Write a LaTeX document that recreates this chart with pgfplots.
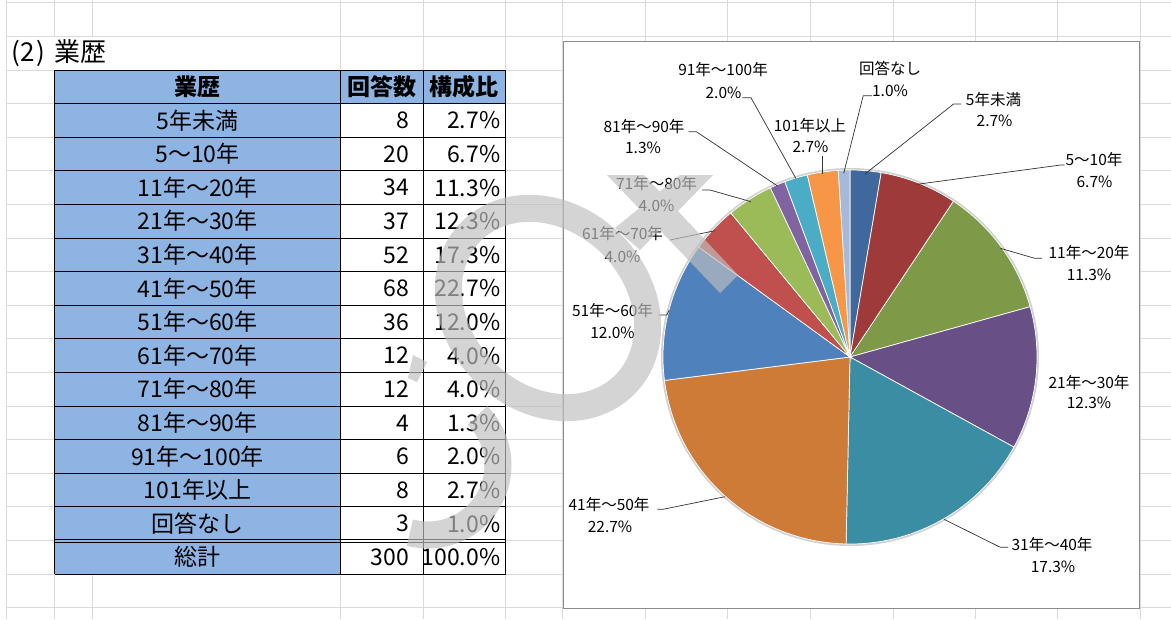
\documentclass[border=0pt]{standalone}
\usepackage{fontspec}
\setmainfont{Noto Sans CJK JP}
\usepackage{pgfplots}
\pgfplotsset{compat=1.18}
\usepgfplotslibrary{polar}
\definecolor{s1}{HTML}{3F689C}
\definecolor{s2}{HTML}{9E3B3A}
\definecolor{s3}{HTML}{7E9948}
\definecolor{s4}{HTML}{685086}
\definecolor{s5}{HTML}{3B8DA4}
\definecolor{s6}{HTML}{CF7B38}
\definecolor{s7}{HTML}{4F81BD}
\definecolor{s8}{HTML}{C0504D}
\definecolor{s9}{HTML}{9BBB59}
\definecolor{s10}{HTML}{8064A2}
\definecolor{s11}{HTML}{4BACC6}
\definecolor{s12}{HTML}{F79646}
\definecolor{s13}{HTML}{A7B9DA}
\definecolor{hdr}{HTML}{8DB4E2}
\definecolor{gridc}{HTML}{DADADA}
\definecolor{boxc}{HTML}{8C8C8C}
\definecolor{wm}{HTML}{BFBFBF}
\newcommand\tf{\fontsize{23}{23}\selectfont}
\newcommand\lf{\fontsize{15.5}{16}\selectfont}
\begin{document}
\begin{tikzpicture}
\begin{scope}[x=1pt,y=-1pt]
\path[use as bounding box, fill=white] (0,0) rectangle (1171,619);
% spreadsheet grid
\foreach \gx in {6,54.5,92,340.5,423,505.5,562,645,727,810,893,975,1057,1140}
  \draw[gridc, line width=0.8pt] (\gx,0) -- (\gx,619);
\foreach \k in {0,...,18}
  \draw[gridc, line width=0.8pt] (6,{2.8+33.6*\k}) -- (1171,{2.8+33.6*\k});
% title
\fill[white] (6.5,37.2) rectangle (340,69.6);
\node[anchor=west, font=\fontsize{26}{26}\selectfont, inner sep=0pt] at (11,53) {(\kern1pt2\kern1pt)\kern9pt業歴};
% table
\fill[hdr] (54.5,70) rectangle (505.5,103.6);
\fill[hdr] (54.5,103.6) rectangle (340.5,574);
\fill[white] (340.5,103.6) rectangle (505.5,574);
\foreach \k in {0,...,13,15}
  \draw[black, line width=0.9pt] (54.5,{70+33.6*\k}) -- (505.5,{70+33.6*\k});
\draw[black, line width=0.8pt] (54.5,539.4) -- (505.5,539.4);
\draw[black, line width=0.8pt] (54.5,542.6) -- (505.5,542.6);
\foreach \gx in {54.5,340.5,423,505.5}
  \draw[black, line width=0.9pt] (\gx,70) -- (\gx,574);
\node[font=\tf\bfseries] at (197.5,86.8) {業歴};
\node[font=\tf\bfseries] at (381.75,86.8) {回答数};
\node[font=\tf\bfseries] at (464.25,86.8) {構成比};
\foreach \lab/\n/\p [count=\i] in {5年未満/8/2.7\%, 5～10年/20/6.7\%, 11年～20年/34/11.3\%, 21年～30年/37/12.3\%, 31年～40年/52/17.3\%, 41年～50年/68/22.7\%, 51年～60年/36/12.0\%, 61年～70年/12/4.0\%, 71年～80年/12/4.0\%, 81年～90年/4/1.3\%, 91年～100年/6/2.0\%, 101年以上/8/2.7\%, 回答なし/3/1.0\%, 総計/300/100.0\%}
{
  \node[font=\tf] at (197.5,{70+33.6*\i+16.8}) {\lab};
  \node[font=\tf, anchor=east, inner sep=0pt] at (409,{70+33.6*\i+16.8}) {\n};
  \node[font=\tf, anchor=east, inner sep=0pt] at (500.5,{70+33.6*\i+16.8}) {\p};
}
% chart area
\filldraw[fill=white, draw=boxc, line width=0.8pt] (563,41) rectangle (1139,608);
\end{scope}

\begin{polaraxis}[at={(850pt,-357pt)}, anchor=center, scale only axis,
  width=374pt, height=374pt, hide axis, ymin=0, ymax=1, clip=false]
\fill[black!18] (axis cs:0,0) circle[radius=189pt];
\addplot[draw=white, line width=0.7pt, fill=s1,  domain=80.4:90,      samples=12] {1} -- (axis cs:0,0) -- cycle;
\addplot[draw=white, line width=0.7pt, fill=s2,  domain=56.4:80.4,    samples=20] {1} -- (axis cs:0,0) -- cycle;
\addplot[draw=white, line width=0.7pt, fill=s3,  domain=15.6:56.4,    samples=30] {1} -- (axis cs:0,0) -- cycle;
\addplot[draw=white, line width=0.7pt, fill=s4,  domain=-28.8:15.6,   samples=30] {1} -- (axis cs:0,0) -- cycle;
\addplot[draw=white, line width=0.7pt, fill=s5,  domain=-91.2:-28.8,  samples=40] {1} -- (axis cs:0,0) -- cycle;
\addplot[draw=white, line width=0.7pt, fill=s6,  domain=-172.8:-91.2, samples=50] {1} -- (axis cs:0,0) -- cycle;
\addplot[draw=white, line width=0.7pt, fill=s7,  domain=-216:-172.8,  samples=30] {1} -- (axis cs:0,0) -- cycle;
\addplot[draw=white, line width=0.7pt, fill=s8,  domain=-230.4:-216,  samples=12] {1} -- (axis cs:0,0) -- cycle;
\addplot[draw=white, line width=0.7pt, fill=s9,  domain=-244.8:-230.4,samples=12] {1} -- (axis cs:0,0) -- cycle;
\addplot[draw=white, line width=0.7pt, fill=s10, domain=-249.6:-244.8,samples=6]  {1} -- (axis cs:0,0) -- cycle;
\addplot[draw=white, line width=0.7pt, fill=s11, domain=-256.8:-249.6,samples=8]  {1} -- (axis cs:0,0) -- cycle;
\addplot[draw=white, line width=0.7pt, fill=s12, domain=-266.4:-256.8,samples=10] {1} -- (axis cs:0,0) -- cycle;
\addplot[draw=white, line width=0.7pt, fill=s13, domain=-270:-266.4,  samples=5]  {1} -- (axis cs:0,0) -- cycle;
\end{polaraxis}

\begin{scope}[x=1pt,y=-1pt]
% leader lines
\begin{scope}[black!80, line width=0.7pt]
\draw (843.7,173.3) -- (863.2,95.7) -- (871.8,95.7);
\draw (865,174) -- (953.6,104) -- (961.4,104);
\draw (917,184.3) -- (1060.8,165) -- (1064.7,165);
\draw (1000.4,248.3) -- (1034.7,258.3) -- (1042,258.3);
\draw (943.9,519.3) -- (1000.4,547.3) -- (1008,547.3);
\draw (725,496.7) -- (663,509.3) -- (657.3,509.3);
\draw (669.3,310) -- (666.7,315) -- (658.3,315);
\draw (715,230.7) -- (670,240);
\draw (751,201.7) -- (710,190) -- (702,190);
\draw (777.5,186) -- (696.4,131.7) -- (688.6,131.7);
\draw (795.8,178.3) -- (751,97.7) -- (742.4,97.7);
\draw (821.9,174) -- (821.9,156);
\end{scope}
% data labels
\begin{scope}[font=\lf, inner sep=0pt]
\node at (890,68) {回答なし};     \node at (890,90.7) {1.0\%};
\node at (993.5,100) {5年未満};   \node at (994.6,120.7) {2.7\%};
\node at (1094,160) {5～10年};    \node at (1094.5,181.7) {6.7\%};
\node at (1089,252.3) {11年～20年}; \node at (1089,275) {11.3\%};
\node at (1089,382.3) {21年～30年}; \node at (1089,403.3) {12.3\%};
\node at (1052,545) {31年～40年};   \node at (1053,566.7) {17.3\%};
\node at (609,504.3) {41年～50年};  \node at (610,526.7) {22.7\%};
\node at (612.5,310.7) {51年～60年}; \node at (612.5,332.7) {12.0\%};
\node at (622.5,234) {61年～70年};  \node at (622.5,256.7) {4.0\%};
\node at (656.5,184) {71年～80年};  \node at (656.5,205.7) {4.0\%};
\node at (644,126.7) {81年～90年};  \node at (643,148.3) {1.3\%};
\node at (723,70) {91年～100年};    \node at (723.5,92.7) {2.0\%};
\node at (810,125.7) {101年以上};   \node at (810.5,147.3) {2.7\%};
\end{scope}
\end{scope}

% watermark
\begin{scope}[transparency group, opacity=0.67]
\draw[wm, line width=27pt, rotate around={-45:(548pt,-308pt)}] (548pt,-308pt) ellipse[x radius=108.5pt, y radius=90pt];
\draw[wm, line width=27pt] ([shift={(45:70pt)}]428pt,-465pt) arc[start angle=45, end angle=-105, radius=70pt];
\begin{scope}[x=1pt,y=-1pt]
\fill[wm] (413,355) -- (427,362) -- (417,382) -- (408,378) -- cycle;
\fill[wm] (607,175) -- (644,175) -- (738,275) -- (720,293) -- cycle;
\fill[wm] (680,175) -- (713,175) -- (640,250) -- (615,228) -- cycle;
\end{scope}
\end{scope}
\end{tikzpicture}
\end{document}
